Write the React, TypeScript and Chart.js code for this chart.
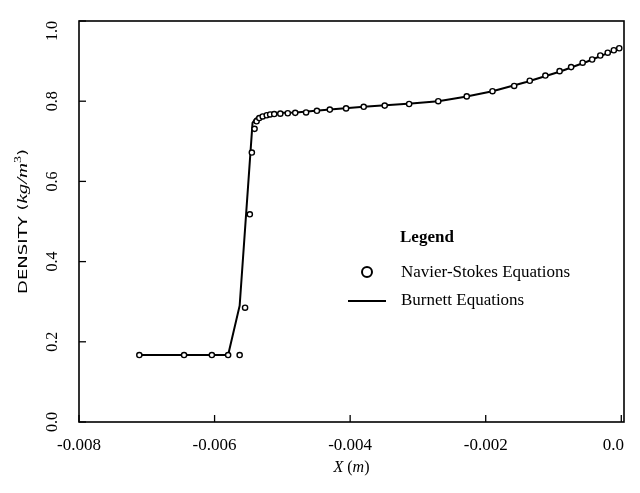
import React, { useEffect, useRef } from "react";
import { Chart, registerables } from "chart.js";

Chart.register(...registerables);

// Navier-Stokes Equations (open circles)
const nsX = [
  -0.00711, -0.00645, -0.00604, -0.0058, -0.00563, -0.00555, -0.00548, -0.00545,
  -0.00541, -0.00538, -0.00534, -0.00529, -0.00523, -0.00518, -0.00512, -0.00503,
  -0.00492, -0.00481, -0.00465, -0.00449, -0.0043, -0.00406, -0.0038, -0.00349,
  -0.00313, -0.0027, -0.00228, -0.0019, -0.00158, -0.00135, -0.00112, -0.00091,
  -0.00074, -0.00057, -0.00043, -0.00031, -0.0002, -0.00011, -0.00003,
];
const nsY = [
  0.167, 0.167, 0.167, 0.167, 0.167, 0.285, 0.518, 0.672,
  0.731, 0.75, 0.758, 0.762, 0.765, 0.767, 0.768, 0.769,
  0.77, 0.771, 0.772, 0.776, 0.779, 0.782, 0.786, 0.789,
  0.793, 0.8, 0.812, 0.825, 0.838, 0.851, 0.864, 0.875,
  0.885, 0.896, 0.904, 0.914, 0.921, 0.927, 0.932,
];

// Burnett Equations (solid line)
const bX = [
  -0.00711, -0.0058, -0.00563, -0.00544, -0.0054, -0.00535, -0.00525, -0.00511,
  -0.00498, -0.0048, -0.0043, -0.0038, -0.0031, -0.0027, -0.0023, -0.0019,
  -0.0014, -0.0009, -0.0005, -0.0002, 0.0,
];
const bY = [
  0.167, 0.167, 0.29, 0.746, 0.756, 0.762, 0.766, 0.769,
  0.771, 0.772, 0.779, 0.786, 0.794, 0.8, 0.811, 0.825,
  0.848, 0.874, 0.899, 0.92, 0.933,
];

const xTicks = [-0.008, -0.006, -0.004, -0.002, 0.0];
const xTickLabels = ["-0.008", "-0.006", "-0.004", "-0.002", "0.0"];
const yTicks = [0.0, 0.2, 0.4, 0.6, 0.8, 1.0];
const yTickLabels = ["0.0", "0.2", "0.4", "0.6", "0.8", "1.0"];
const legendTitle = "Legend";
const nsLabel = "Navier-Stokes Equations";
const bLabel = "Burnett Equations";

const SERIF = "'Liberation Serif', 'DejaVu Serif', serif";
const SANS = "'DejaVu Sans', 'Liberation Sans', sans-serif";

const decorPlugin = {
  id: "decor",
  afterDraw(chart: any) {
    const ctx = chart.ctx as CanvasRenderingContext2D;
    const a = chart.chartArea;
    const xs = chart.scales.x;
    const ys = chart.scales.y;
    ctx.save();
    ctx.strokeStyle = "#000";
    ctx.fillStyle = "#000";
    ctx.lineWidth = 1.6;
    ctx.strokeRect(a.left, a.top, a.right - a.left, a.bottom - a.top);

    // inward ticks
    ctx.lineWidth = 1.3;
    xTicks.forEach((t) => {
      const px = xs.getPixelForValue(t);
      ctx.beginPath();
      ctx.moveTo(px, a.bottom);
      ctx.lineTo(px, a.bottom - 7);
      ctx.stroke();
    });
    yTicks.forEach((t) => {
      const py = ys.getPixelForValue(t);
      ctx.beginPath();
      ctx.moveTo(a.left, py);
      ctx.lineTo(a.left + 7, py);
      ctx.stroke();
    });

    // x tick labels
    ctx.font = `17px ${SERIF}`;
    ctx.textBaseline = "alphabetic";
    xTicks.forEach((t, i) => {
      const px = xs.getPixelForValue(t);
      ctx.textAlign = i === xTicks.length - 1 ? "right" : "center";
      ctx.fillText(xTickLabels[i], i === xTicks.length - 1 ? a.right : px, a.bottom + 28);
    });

    // y tick labels (rotated)
    ctx.font = `16px ${SERIF}`;
    yTicks.forEach((t, i) => {
      const py = ys.getPixelForValue(t);
      ctx.save();
      ctx.translate(57, py);
      ctx.rotate(-Math.PI / 2);
      ctx.textAlign = i === yTicks.length - 1 ? "right" : "center";
      ctx.textBaseline = "alphabetic";
      ctx.fillText(yTickLabels[i], 0, 0);
      ctx.restore();
    });

    // y title
    const parts = [
      { t: "DENSITY (", f: `13px ${SANS}`, dy: 0 },
      { t: "kg/m", f: `italic 15px ${SERIF}`, dy: 0 },
      { t: "3", f: `10px ${SERIF}`, dy: -6 },
      { t: ")", f: `13px ${SANS}`, dy: 0 },
    ];
    let total = 0;
    const widths = parts.map((p) => {
      ctx.font = p.f;
      const w = ctx.measureText(p.t).width;
      total += w;
      return w;
    });
    const target = 145;
    const sx = target / total;
    const cy = (a.top + a.bottom) / 2;
    ctx.save();
    ctx.translate(27, cy);
    ctx.rotate(-Math.PI / 2);
    ctx.scale(sx, 1);
    ctx.textAlign = "left";
    ctx.textBaseline = "alphabetic";
    let u = -total / 2;
    parts.forEach((p, i) => {
      ctx.font = p.f;
      ctx.fillText(p.t, u, p.dy);
      u += widths[i];
    });
    ctx.restore();

    // x title: X (m)
    const xparts = [
      { t: "X", f: `italic 16px ${SERIF}` },
      { t: " (", f: `16px ${SERIF}` },
      { t: "m", f: `italic 16px ${SERIF}` },
      { t: ")", f: `16px ${SERIF}` },
    ];
    let xt = 0;
    const xw = xparts.map((p) => {
      ctx.font = p.f;
      const w = ctx.measureText(p.t).width;
      xt += w;
      return w;
    });
    let xx = (a.left + a.right) / 2 - xt / 2;
    ctx.textAlign = "left";
    xparts.forEach((p, i) => {
      ctx.font = p.f;
      ctx.fillText(p.t, xx, 472);
      xx += xw[i];
    });

    // legend
    ctx.font = `bold 17px ${SERIF}`;
    ctx.textAlign = "left";
    ctx.textBaseline = "middle";
    ctx.fillText(legendTitle, 400, 238);
    ctx.font = `17px ${SERIF}`;
    ctx.fillText(nsLabel, 401, 273);
    ctx.fillText(bLabel, 401, 301);
    ctx.lineWidth = 2;
    ctx.beginPath();
    ctx.arc(367, 272, 5, 0, Math.PI * 2);
    ctx.stroke();
    ctx.beginPath();
    ctx.moveTo(348, 301);
    ctx.lineTo(386, 301);
    ctx.stroke();
    ctx.restore();
  },
};

export default function App() {
  const ref = useRef<HTMLCanvasElement | null>(null);
  useEffect(() => {
    if (!ref.current) return;
    const chart = new Chart(ref.current, {
      type: "scatter",
      data: {
        datasets: [
          {
            label: nsLabel,
            data: nsX.map((x, i) => ({ x, y: nsY[i] })),
            showLine: false,
            pointRadius: 2.6,
            pointBorderWidth: 1.4,
            borderColor: "#000",
            backgroundColor: "#fff",
            pointStyle: "circle",
          },
          {
            label: bLabel,
            data: bX.map((x, i) => ({ x, y: bY[i] })),
            showLine: true,
            pointRadius: 0,
            borderColor: "#000",
            borderWidth: 2,
            tension: 0,
          },
        ],
      },
      options: {
        animation: false,
        responsive: true,
        maintainAspectRatio: false,
        layout: { padding: { left: 79, right: 16, top: 21, bottom: 71 } },
        plugins: { legend: { display: false }, tooltip: { enabled: false } },
        scales: {
          x: { type: "linear", min: -0.008, max: 0.00004, display: false },
          y: { type: "linear", min: 0, max: 1.0, display: false },
        },
      },
      plugins: [decorPlugin],
    });
    return () => chart.destroy();
  }, []);
  return (
    <div style={{ position: "fixed", left: 0, top: 0, width: 640, height: 493, background: "#fff" }}>
      <canvas ref={ref} />
    </div>
  );
}
